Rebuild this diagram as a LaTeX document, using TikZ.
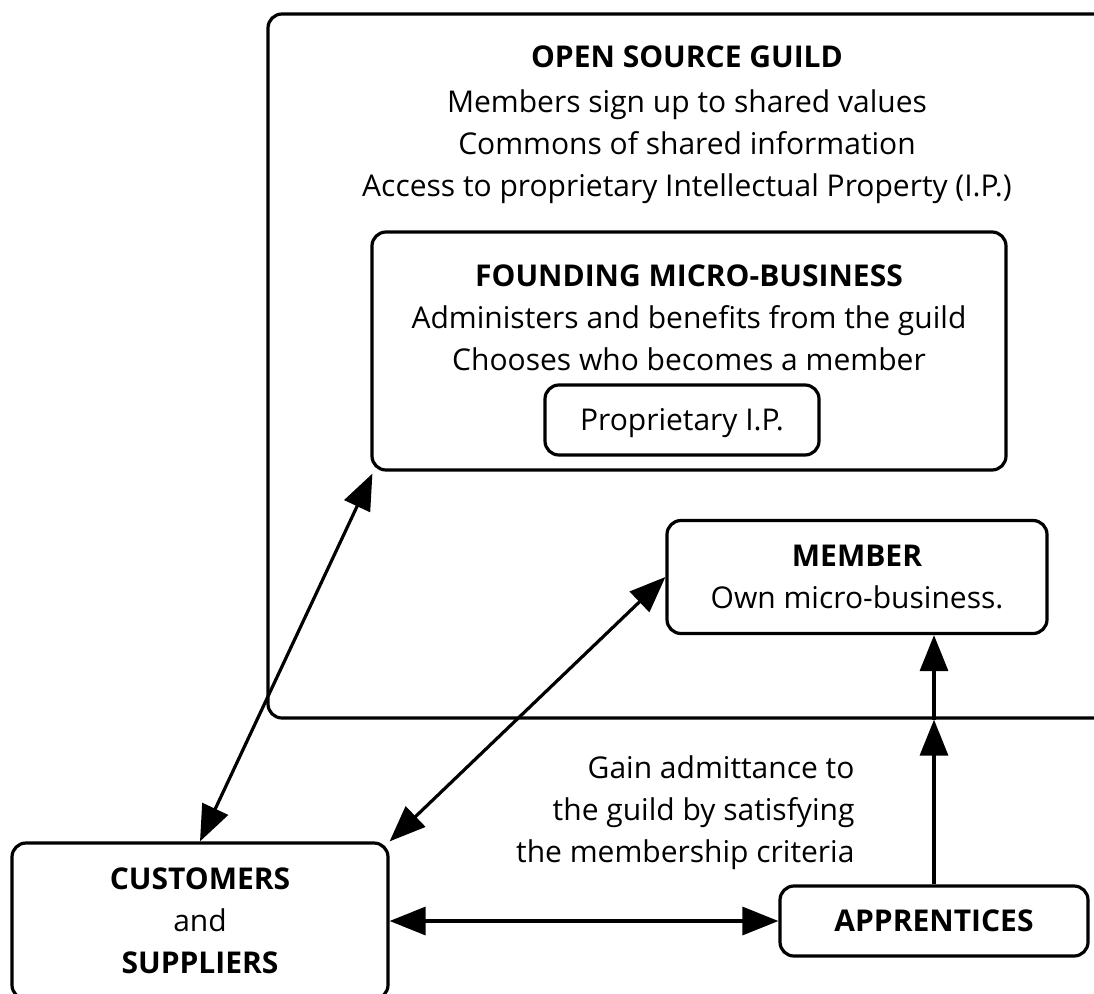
\documentclass[tikz,border=0pt]{standalone}
\usepackage{fontspec}
\setmainfont{Open Sans}
\usetikzlibrary{arrows.meta}
\tikzset{
  box/.style={draw, line width=3.2pt, rounded corners=14pt, inner sep=0pt},
  txt/.style={align=center, font=\fontsize{30}{42}\selectfont},
  link/.style={line width=3.2pt, -{Triangle[length=36pt,width=28pt]}},
  dlink/.style={line width=3.2pt, {Triangle[length=36pt,width=28pt]}-{Triangle[length=36pt,width=28pt]}},
}
\begin{document}
\begin{tikzpicture}[x=1pt,y=-1pt]
\useasboundingbox (0,0) rectangle (1094,993);
\clip (0,0) rectangle (1094,993);
% guild
\node[box, minimum width=860pt, minimum height=704pt] (guild) at (698,366) {};
\node[txt] (guildtext) at (687,125) {\textbf{OPEN SOURCE GUILD}\\[3pt]Members sign up to shared values\\Commons of shared information\\Access to proprietary Intellectual Property (I.P.)};
% founding
\node[box, minimum width=634pt, minimum height=238pt] (fnd) at (689,351) {};
\node[txt] (fndtext) at (689,318) {\textbf{FOUNDING MICRO-BUSINESS}\\Administers and benefits from the guild\\Chooses who becomes a member};
\node[box, minimum width=274pt, minimum height=70pt] (ip) at (682,420) {};
\node[txt] (iptext) at (682,423) {Proprietary I.P.};
% member
\node[box, txt, minimum width=380pt, minimum height=113pt] (mem) at (857,577) {\textbf{MEMBER}\\Own micro-business.};
% customers
\node[box, txt, minimum width=376pt, minimum height=156pt] (cust) at (200,921) {\textbf{CUSTOMERS}\\and\\\textbf{SUPPLIERS}};
% apprentices
\node[box, txt, minimum width=308pt, minimum height=70pt] (appr) at (934,921) {\textbf{APPRENTICES}};
% label
\node[txt, align=right, anchor=east] (gain) at (858,813) {Gain admittance to\\the guild by satisfying\\the membership criteria};
% connectors
\coordinate (gate) at (appr.north |- guild.south);
\draw[dlink] (cust.north) -- ([shift={(2pt,-2pt)}]fnd.south west);
\draw[dlink] (cust.north east) -- (mem.west);
\draw[dlink] (cust.east) -- (appr.west);
\draw[link] (appr.north) -- (gate);
\draw[link] (gate) -- (gate |- mem.south);
\end{tikzpicture}
\end{document}
